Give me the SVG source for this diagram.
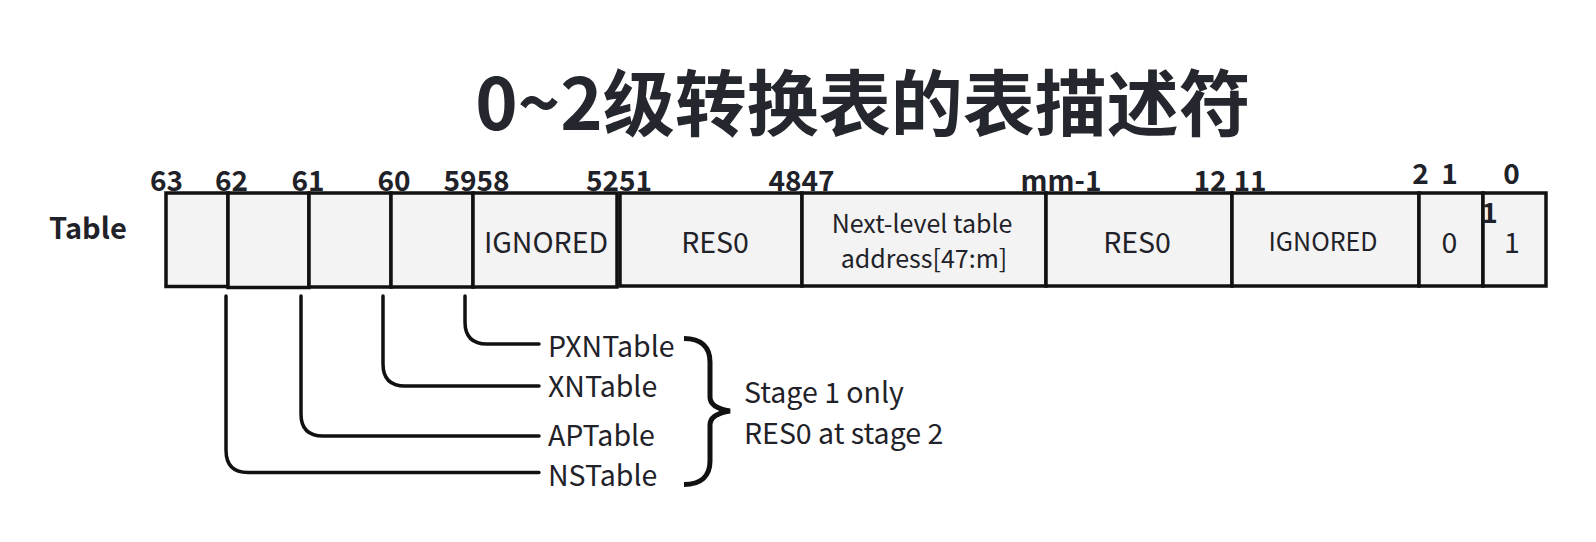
<svg xmlns="http://www.w3.org/2000/svg" width="1596" height="542" viewBox="0 0 1596 542">
<style>
text{font-family:"Noto Sans CJK SC","Noto Sans",sans-serif;fill:#1f2228}
.title{font-size:72px;font-weight:700;fill:#24272d}
.bit{font-size:28px;font-weight:700;text-anchor:middle}
.cell rect{fill:#f3f3f3;stroke:#111;stroke-width:3.5}
.ct{font-size:28.5px;text-anchor:middle}
.lbl{font-size:28.5px}
.conn{fill:none;stroke:#111;stroke-width:3.5;stroke-linecap:round}
</style>
<rect width="1596" height="542" fill="#ffffff"/>
<text class="title" x="863" y="130" text-anchor="middle">0~2级转换表的表描述符</text>
<text x="49" y="239" style="font-size:29px;font-weight:700">Table</text>
<g id="cell-63" class="cell"><rect x="166" y="193" width="62" height="93.5"/></g>
<g id="cell-62" class="cell"><rect x="228" y="193" width="81" height="94.5"/></g>
<g id="cell-61" class="cell"><rect x="309" y="193" width="82" height="94"/></g>
<g id="cell-60" class="cell"><rect x="391" y="193" width="82" height="94"/></g>
<g id="cell-59-52" class="cell"><rect x="473" y="193" width="144" height="94"/><text class="ct" x="546" y="252.5">IGNORED</text></g>
<g id="cell-51-48" class="cell"><rect x="620" y="193" width="182" height="93"/><text class="ct" x="715" y="252.5">RES0</text></g>
<g id="cell-47-m" class="cell"><rect x="802" y="193" width="244" height="93"/><text class="ct" x="922" y="233" style="font-size:25px">Next-level table</text><text class="ct" x="924" y="268" style="font-size:25px">address[47:m]</text></g>
<g id="cell-m1-12" class="cell"><rect x="1046" y="193" width="186" height="93"/><text class="ct" x="1137" y="252.5">RES0</text></g>
<g id="cell-11-2" class="cell"><rect x="1232" y="193" width="187" height="93"/><text class="ct" x="1323" y="250.5" style="font-size:25px">IGNORED</text></g>
<g id="cell-1" class="cell"><rect x="1419" y="193" width="64" height="93"/><text class="ct" x="1449.5" y="252.5">0</text></g>
<g id="cell-0" class="cell"><rect x="1483" y="193" width="63" height="93"/><text class="ct" x="1512" y="252.5">1</text></g>
<g id="bits">
<text class="bit" x="166.5" y="190.5">63</text>
<text class="bit" x="231.5" y="190.5">62</text>
<text class="bit" x="308" y="190.5">61</text>
<text class="bit" x="394" y="190.5">60</text>
<text class="bit" x="476.5" y="190.5">5958</text>
<text class="bit" x="619" y="190.5">5251</text>
<text class="bit" x="801.5" y="190.5">4847</text>
<text class="bit" x="1061" y="190.5">mm-1</text>
<text class="bit" x="1210" y="190.5">12</text>
<text class="bit" x="1250" y="190.5">11</text>
<text class="bit" x="1420.5" y="184">2</text>
<text class="bit" x="1449.5" y="184">1</text>
<text class="bit" x="1511.5" y="183.5">0</text>
<text class="bit" x="1489.5" y="223">1</text>
</g>
<g id="connectors">
<path class="conn" d="M465,296 V322 Q465,344 487,344 H539"/>
<path class="conn" d="M383,296 V364 Q383,386 405,386 H539"/>
<path class="conn" d="M301,296 V414 Q301,436 323,436 H539"/>
<path class="conn" d="M226,296 V450 Q226,472.5 248,472.5 H539"/>
<path d="M684,338.5 C701,338.5 710,347 710,362 L710,397 C710,405 717,409 730,411 C717,413 710,417 710,425 L710,461 C710,476 701,484.5 684,484.5" fill="none" stroke="#111" stroke-width="5"/>
</g>
<g id="labels">
<text class="lbl" x="548" y="356.5">PXNTable</text>
<text class="lbl" x="548" y="397">XNTable</text>
<text class="lbl" x="548" y="446">APTable</text>
<text class="lbl" x="548" y="486">NSTable</text>
<text class="lbl" x="744" y="403">Stage 1 only</text>
<text class="lbl" x="744" y="444">RES0 at stage 2</text>
</g>
</svg>
